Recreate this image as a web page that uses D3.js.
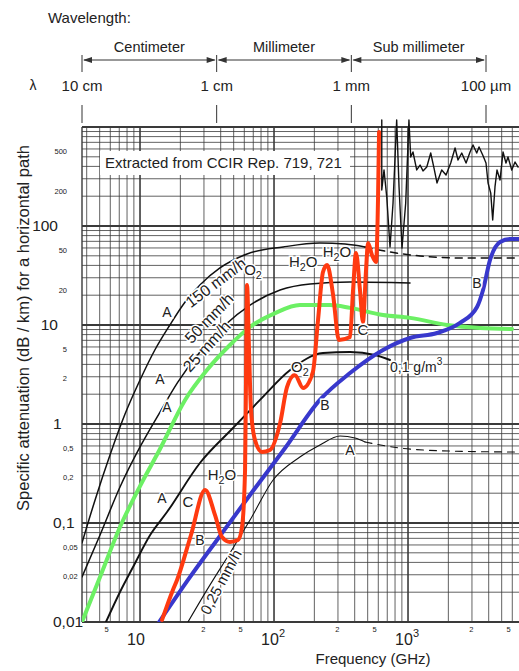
<!DOCTYPE html>
<html>
<head>
<meta charset="utf-8">
<title>Specific attenuation</title>
<style>
  body { margin: 0; padding: 0; background: #fff; }
  svg { font-family: 'Liberation Sans', Arial, sans-serif; }
  svg text { fill: #222; }
</style>
</head>
<body>
<div id="chart"></div>
<script src="https://d3js.org/d3.v7.min.js"></script>
<script>
// frequency in GHz, attenuation in dB/km
var rain150 = [[3.69,0.063],[4.62,0.171],[5.97,0.486],[7.73,1.26],[10,2.78],[12.9,5.59],[16.7,10],[21.7,17.1],[28,25.4],[39.5,37.7],[62.9,52.2],[117,61.4],[220,67.3],[339,65.8],[478,61.4]];
var rain150Ext = [[478,61.4],[734,54.6],[1230,49.8],[2445,47.5],[6733,47.5]];
var rain50 = [[3.69,0.0285],[5.03,0.0757],[7.09,0.231],[10,0.586],[14.1,1.32],[19.2,2.66],[28,5.34],[43.1,10],[66.2,15.9],[111,22.6],[186,26],[369,27.2],[1035,26.6]];
var rain25 = [[3.69,0.01],[5.03,0.0285],[7.09,0.091],[10,0.236],[14.1,0.559],[21.7,1.75],[31.6,3.51],[46.9,6.28],[66.2,9.55],[102,13.2],[156,15.9],[262,15.9],[369,14.9],[651,12.6],[1035,11.8],[1954,10],[3446,9.33],[5972,9.12]];
var rainA = [[5.57,0.01],[7.09,0.0201],[8.87,0.0359],[11.9,0.0757],[15.9,0.129],[28,0.404],[49.4,0.911],[78.6,1.75],[132,3.51],[232,5.21],[369,5.34],[567,4.98],[734,4.43]];
var drizzle = [[22.8,0.01],[31.6,0.0211],[46.9,0.0498],[66.2,0.107],[98.4,0.272],[156,0.464],[220,0.614],[311,0.757],[402,0.722],[478,0.658]];
var drizzleExt = [[478,0.658],[871,0.572],[2058,0.533],[6733,0.521]];
var fog = [[13.9,0.01],[22.8,0.0266],[39.5,0.074],[66.2,0.192],[121,0.572],[220,1.75],[369,3.27],[651,5.59],[1035,7.39],[1645,8.3],[2445,10.5],[3273,15.2],[3631,22.6],[4093,45.4],[4862,68.9],[5772,73.9],[6733,73.9]];
var gases = [[14.6,0.0105],[17.6,0.0211],[18.9,0.0266],[24,0.0757],[30.6,0.216],[36.3,0.12],[40.9,0.0722],[46.9,0.0643],[53.9,0.0673],[57.7,0.0912],[60.8,0.343],[61.8,2.78],[62.9,25.4],[65.1,5.59],[67.3,1.38],[72.1,0.69],[81.3,0.521],[93.3,0.546],[111,1.02],[125,2.36],[143,3.13],[165,2.31],[195,3.35],[213,11.2],[232,34.3],[249,40.4],[276,20.1],[305,7.05],[369,7.56],[389,22.6],[409,53.3],[438,22.6],[461,10.7],[486,35.9],[503,67.3],[538,50.9],[577,43.3],[597,183],[608,889]];
var measured = [[637,1177],[637,231],[662,368],[694,196],[734,61.4],[773,171],[823,1177],[857,248],[902,59.9],[961,171],[1016,1177],[1047,498],[1089,559],[1161,368],[1230,413],[1294,360],[1380,394],[1477,546],[1563,385],[1645,272],[1784,368],[1922,327],[2083,433],[2244,614],[2361,464],[2518,546],[2711,433],[2904,559],[3055,658],[3257,546],[3388,628],[3609,521],[3819,433],[3956,272],[4144,215],[4285,115],[4457,248],[4613,368],[4862,292],[5117,559],[5383,433],[5572,498],[5943,368],[6290,443],[6628,394]];

var xMajorTicks = [10, 100, 1000];
var xMajorText = ["10", "10^2", "10^3"];
var xMinorTicks = [5, 20, 50, 200, 500, 2000, 5000];
var yMajorTicks = [0.01, 0.1, 1, 10, 100];
var yMajorText = ["0,01", "0,1", "1", "10", "100"];
var yMinorTicks = [0.02, 0.05, 0.2, 0.5, 2, 5, 20, 50, 200, 500];
var yMinorText = ["0,02", "0,05", "0,2", "0,5", "2", "5", "20", "50", "200", "500"];

// wavelength in metres
var waveTicks = [0.1, 0.01, 0.001, 0.0001];
var waveText = ["10 cm", "1 cm", "1 mm", "100 \u00b5m"];
var waveBands = ["Centimeter", "Millimeter", "Sub millimeter"];

var labelText = ["A", "150 mm/h", "A", "50 mm/h", "A", "25 mm/h", "A", "C", "H_2O", "B", "0,25 mm/h", "O_2", "O_2", "H_2O", "H_2O", "C", "B", "A", "B"];
var labelAt = [[15.9,12],[38.9,24.2],[14.1,2.54],[35.1,10.7],[15.9,1.32],[33.8,5.6],[14.6,0.159],[22.8,0.145],[40.9,0.272],[28,0.06],[43.5,0.024],[69.7,32],[156,3.35],[165,38.5],[295,48.6],[461,7.93],[240,1.38],[369,0.486],[3273,23.6]];
var labelAngle = [0, -37, 0, -46, 0, -48, 0, 0, 0, 0, -62, 0, 0, 0, 0, 0, 0, 0, 0];
var labelSize = [14, 16, 14, 16, 14, 16, 14, 15, 15, 14, 15, 15, 15, 15, 15, 15, 14, 14, 14];

var W = 519, H = 671;
var svg = d3.select("#chart").append("svg").attr("width", W).attr("height", H);

var x = d3.scaleLog().domain([3.69, 6733]).range([82, 519]),
    y = d3.scaleLog().domain([0.01, 1000]).range([622, 127]),
    lam = d3.scaleLog().domain([0.1, 0.0001]).range([82, 486]);

function rich(text, s) {
  var shift = 0;
  s.split(/([_^]\d)/).filter(p => p).forEach(function (p) {
    var target = 0, str = p, small = false;
    if (p[0] === "_") { target = 4; str = p.slice(1); small = true; }
    else if (p[0] === "^") { target = -7; str = p.slice(1); small = true; }
    var ts = text.append("tspan").attr("dy", target - shift).text(str);
    if (small) ts.attr("font-size", "0.72em");
    shift = target;
  });
}

// grid
var grid = svg.append("g").attr("stroke", "#3a3a3a").attr("fill", "none");
var xs = [], ys = [];
[1, 10, 100, 1000].forEach(d => d3.range(1, 10).forEach(m => xs.push(m * d)));
[0.01, 0.1, 1, 10, 100].forEach(d => d3.range(1, 10).forEach(m => ys.push(m * d)));
ys.push(1000);
xs = xs.filter(v => v > 3.69 && v < 6733);
function isDecade(v) { return Math.abs(Math.log10(v) - Math.round(Math.log10(v))) < 1e-6; }
grid.selectAll(".gx").data(xs).enter().append("line")
  .attr("x1", d => x(d)).attr("x2", d => x(d)).attr("y1", y(1000)).attr("y2", y(0.01))
  .attr("stroke-width", d => isDecade(d) ? 1.6 : 0.8);
grid.selectAll(".gy").data(ys).enter().append("line")
  .attr("x1", 82).attr("x2", W).attr("y1", d => y(d)).attr("y2", d => y(d))
  .attr("stroke-width", d => isDecade(d) ? 1.8 : 0.8);
grid.append("line").attr("x1", 82).attr("x2", 82).attr("y1", y(1000)).attr("y2", y(0.01)).attr("stroke-width", 1.4);

// source note
svg.append("rect").attr("x", 100).attr("y", 151).attr("width", 250).attr("height", 24).attr("fill", "#fff");
svg.append("text").attr("x", 105).attr("y", 168).attr("font-size", 15).text("Extracted from CCIR Rep. 719, 721");

// curves
svg.append("clipPath").attr("id", "clip").append("rect").attr("x", 82).attr("y", 116).attr("width", W - 82).attr("height", 622 - 116);
var plot = svg.append("g").attr("clip-path", "url(#clip)").attr("fill", "none")
  .attr("stroke-linejoin", "round").attr("stroke-linecap", "round");
var smooth = d3.line().x(d => x(d[0])).y(d => y(d[1])).curve(d3.curveMonotoneX);
var straight = d3.line().x(d => x(d[0])).y(d => y(d[1]));

var series = [
  {d: rain150, c: "#111", w: 1.5},
  {d: rain150Ext, c: "#111", w: 1.5, dash: "7,6"},
  {d: rain50, c: "#111", w: 1.5},
  {d: rainA, c: "#111", w: 1.9},
  {d: drizzle, c: "#111", w: 1.1},
  {d: drizzleExt, c: "#111", w: 1.1, dash: "7,6"},
  {d: measured, c: "#111", w: 1.4, line: straight},
  {d: rain25, c: "#6cf064", w: 4},
  {d: fog, c: "#3838cc", w: 4},
  {d: gases, c: "#ff3a10", w: 4}
];
series.forEach(function (s) {
  plot.append("path").datum(s.d)
    .attr("d", s.line || smooth)
    .attr("stroke", s.c).attr("stroke-width", s.w)
    .attr("stroke-dasharray", s.dash || null);
});

// curve labels
var labels = svg.append("g")
  .attr("stroke", "#fff").attr("stroke-width", 3).attr("paint-order", "stroke");
labelText.forEach(function (t, i) {
  var px = x(labelAt[i][0]), py = y(labelAt[i][1]);
  var el = labels.append("text").attr("text-anchor", "middle").attr("dy", "0.35em")
    .attr("font-size", labelSize[i])
    .attr("transform", "translate(" + px + "," + py + ") rotate(" + labelAngle[i] + ")");
  rich(el, t);
});
var fogLabel = labels.append("text").attr("x", x(734)).attr("y", y(3.35)).attr("dy", "0.35em").attr("font-size", 14);
rich(fogLabel, "0,1 g/m^3");

// y axis labels
var yl = svg.append("g");
yl.selectAll(".ym").data(yMajorTicks).enter().append("text")
  .attr("x", d => d >= 10 ? 58 : 53).attr("y", d => y(d)).attr("dy", "0.35em")
  .attr("text-anchor", d => d >= 10 ? "end" : "start")
  .attr("font-size", 15.5).text((d, i) => yMajorText[i]);
// the scan prints the small labels a little above their lines
yl.selectAll(".yn").data(yMinorTicks).enter().append("text")
  .attr("x", d => d >= 1 ? 67 : 63).attr("y", (d, i) => y(d) - (yMinorText[i].slice(-1) === "2" ? 16 : 5))
  .attr("dy", "0.35em")
  .attr("text-anchor", d => d >= 1 ? "end" : "start")
  .attr("font-size", 7.5).text((d, i) => yMinorText[i]);

svg.append("text").attr("transform", "translate(29,328) rotate(-90)")
  .attr("text-anchor", "middle").attr("font-size", 16.5)
  .text("Specific attenuation (dB / km) for a horizontal path");

// x axis labels
xMajorTicks.forEach(function (v, i) {
  var t = svg.append("text").attr("x", x(v) - 4).attr("y", 645).attr("font-size", 16).attr("text-anchor", "middle");
  var parts = xMajorText[i].split("^");
  t.text(parts[0]);
  if (parts[1]) svg.append("text").attr("x", x(v) + 5).attr("y", 637).attr("font-size", 11).text(parts[1]);
});
svg.selectAll(".xn").data(xMinorTicks).enter().append("text")
  .attr("x", d => x(d) + (String(d)[0] === "2" ? 23 : 7)).attr("y", 632)
  .attr("text-anchor", "middle").attr("font-size", 7.5).text(d => String(d)[0]);
svg.append("text").attr("x", 373).attr("y", 664).attr("text-anchor", "middle").attr("font-size", 15).text("Frequency (GHz)");

// wavelength band
svg.append("text").attr("x", 48).attr("y", 23).attr("font-size", 15).text("Wavelength:");
svg.append("text").attr("x", 33).attr("y", 90).attr("text-anchor", "middle").attr("font-size", 14).text("\u03bb");
var wl = svg.append("g").attr("stroke", "#333").attr("stroke-width", 1);
waveTicks.forEach(function (v) {
  wl.append("line").attr("x1", lam(v)).attr("x2", lam(v)).attr("y1", 55).attr("y2", 72);
  wl.append("line").attr("x1", lam(v)).attr("x2", lam(v)).attr("y1", 105).attr("y2", 123);
});
svg.selectAll(".wt").data(waveTicks).enter().append("text")
  .attr("x", d => lam(d)).attr("y", 91).attr("text-anchor", "middle").attr("font-size", 15)
  .text((d, i) => waveText[i]);
waveBands.forEach(function (name, i) {
  var a = lam(waveTicks[i]), b = lam(waveTicks[i + 1]);
  wl.append("line").attr("x1", a + 2).attr("x2", b - 2).attr("y1", 60).attr("y2", 60);
  wl.append("path").attr("fill", "#333").attr("stroke", "none")
    .attr("d", "M" + (a + 1) + ",60l9,-3v6z M" + (b - 1) + ",60l-9,-3v6z");
  svg.append("text").attr("x", (a + b) / 2).attr("y", 52).attr("text-anchor", "middle")
    .attr("font-size", 14.5).text(name);
});
</script>
</body>
</html>
